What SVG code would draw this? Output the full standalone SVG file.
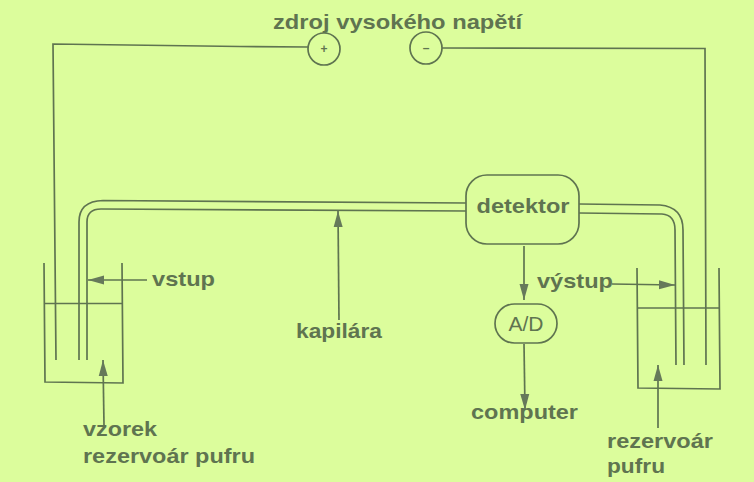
<svg xmlns="http://www.w3.org/2000/svg" width="754" height="482" viewBox="0 0 754 482">
<defs>
<marker id="a" markerUnits="userSpaceOnUse" markerWidth="18" markerHeight="12" refX="16" refY="6" orient="auto"><path d="M0 1.500 L16 6 L0 10.500 Z" fill="#66795a"/></marker>
</defs>
<style>
.l{fill:none;stroke:#5f7450;stroke-width:1.7}
.t{font-family:"Liberation Sans",Arial,sans-serif;font-weight:bold;font-size:21px;fill:#5f7450}
</style>
<rect width="754" height="482" fill="#dcfd9c"/>
<g id="connectors" class="l">
<path class="l" d="M308 47 L240 46.500 L53 44 L56 360"/>
<path class="l" d="M442 48 L705 48.500 L706 365"/>
<path class="l" d="M79 360 L79 222 Q79 201 103 200.500 L466 203"/>
<path class="l" d="M87 360 L87 222 Q87 209 101 209 L466 211"/>
<path class="l" d="M579 204 L660 205 Q683 207 683 230 L684 365"/>
<path class="l" d="M579 213 L662 214 Q675 215 675 230 L676 365"/>
<path class="l" marker-end="url(#a)" d="M147 280 L88 280"/>
<path class="l" marker-end="url(#a)" d="M104 425 L103 360"/>
<path class="l" marker-end="url(#a)" d="M339 320 L338 211"/>
<path class="l" marker-end="url(#a)" d="M524 246 L524 300"/>
<path class="l" marker-end="url(#a)" d="M524 344 L525 410"/>
<path class="l" marker-end="url(#a)" d="M612 284 L675 285"/>
<path class="l" marker-end="url(#a)" d="M658 428 L658 365"/>
</g>
<g id="beaker-left"><path class="l" d="M44 263 L45 382 L123 383 L122 263 M45 303.500 L122 303.500"/></g>
<g id="beaker-right"><path class="l" d="M637 268 L638 388 L720 389 L719 268 M638 308 L719 308"/></g>
<g id="plus"><circle class="l" cx="324" cy="49" r="16"/><text class="t" x="324" y="53" text-anchor="middle" style="font-size:12px">+</text></g>
<g id="minus"><circle class="l" cx="426" cy="48" r="16"/><text class="t" x="426" y="52" text-anchor="middle" style="font-size:12px">–</text></g>
<g id="detektor"><rect class="l" x="466" y="175" width="113" height="69" rx="21"/><text class="t" x="523" y="213" text-anchor="middle" textLength="93" lengthAdjust="spacingAndGlyphs">detektor</text></g>
<g id="ad"><rect class="l" x="495" y="304" width="62" height="39" rx="19.500"/><text x="526" y="331" text-anchor="middle" font-family="Liberation Sans,Arial,sans-serif" font-size="21" fill="#5f7450">A/D</text></g>
<g id="labels">
<text class="t" x="273" y="29" textLength="249" lengthAdjust="spacingAndGlyphs">zdroj vysokého napětí</text>
<text class="t" x="152" y="286" textLength="63" lengthAdjust="spacingAndGlyphs">vstup</text>
<text class="t" x="296" y="338" textLength="86" lengthAdjust="spacingAndGlyphs">kapilára</text>
<text class="t" x="537" y="288" textLength="76" lengthAdjust="spacingAndGlyphs">výstup</text>
<text class="t" x="471" y="419" textLength="107" lengthAdjust="spacingAndGlyphs">computer</text>
<text class="t" x="83" y="436" textLength="74" lengthAdjust="spacingAndGlyphs">vzorek</text>
<text class="t" x="83" y="463" textLength="172" lengthAdjust="spacingAndGlyphs">rezervoár pufru</text>
<text class="t" x="607" y="448" textLength="106" lengthAdjust="spacingAndGlyphs">rezervoár</text>
<text class="t" x="607" y="473" textLength="58" lengthAdjust="spacingAndGlyphs">pufru</text>
</g>
</svg>
